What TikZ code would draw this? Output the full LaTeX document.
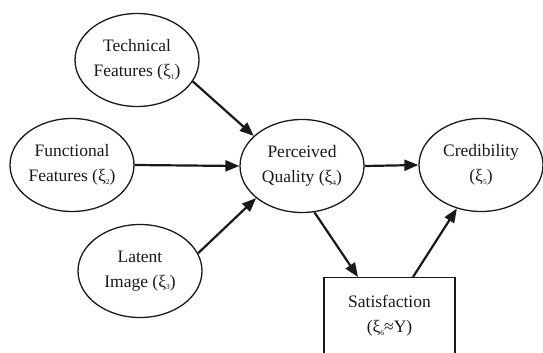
\documentclass[tikz,border=0pt]{standalone}
\usepackage{fontspec}
\setmainfont{Liberation Serif}
\usepackage{xcolor}
\usepackage{tikz}
\usetikzlibrary{arrows.meta,positioning,shapes.geometric}
\definecolor{ink}{RGB}{28,24,22}
\newcommand{\xis}[1]{ξ\raisebox{-2.5pt}{\fontsize{7.5}{7.5}\selectfont #1}}

\begin{document}
\begin{tikzpicture}[x=1pt,y=-1pt,
    construct/.style={ellipse,draw=ink,line width=1.3pt,minimum width=124pt,minimum height=93pt,
      inner sep=0pt,align=center,text=ink,font=\fontsize{17.5}{25}\selectfont},
    outcome/.style={rectangle,draw=ink,line width=1.2pt,minimum width=131pt,minimum height=100pt,
      anchor=north,inner sep=0pt},
    path/.style={draw=ink,line width=2.2pt,-{Triangle[length=14pt,width=11pt]}}]
    \useasboundingbox (0,0) rectangle (543,353);
    \node[construct] (tech) at (137,60) {Technical\\Features (\xis{1})};
    \node[construct] (func) at (72,165) {Functional\\Features (\xis{2})};
    \node[construct] (latent) at (140,271) {Latent\\Image (\xis{3})};
    \node[construct] (perc) at (302,166) {Perceived\\Quality (\xis{4})};
    \node[construct] (cred) at (481,165) {Credibility\\(\xis{5})};
    \node[outcome,label={[anchor=north,yshift=-15pt,align=center,text=ink,
        font=\fontsize{17.5}{25}\selectfont]north:Satisfaction\\(\xis{6}≈Y)}] (sat) at (389.5,277) {};
    \draw[path] (tech.-21) -- (perc.148);
    \draw[path] (func.east) -- (perc.west);
    \draw[path] (latent.17) -- (perc.-145);
    \draw[path] (perc.east) -- (cred.west);
    \draw[path] (perc.-75) -- ([xshift=-31.5pt]sat.north);
    \draw[path] ([xshift=23.5pt]sat.north) -- (cred.-119);
\end{tikzpicture}
\end{document}
